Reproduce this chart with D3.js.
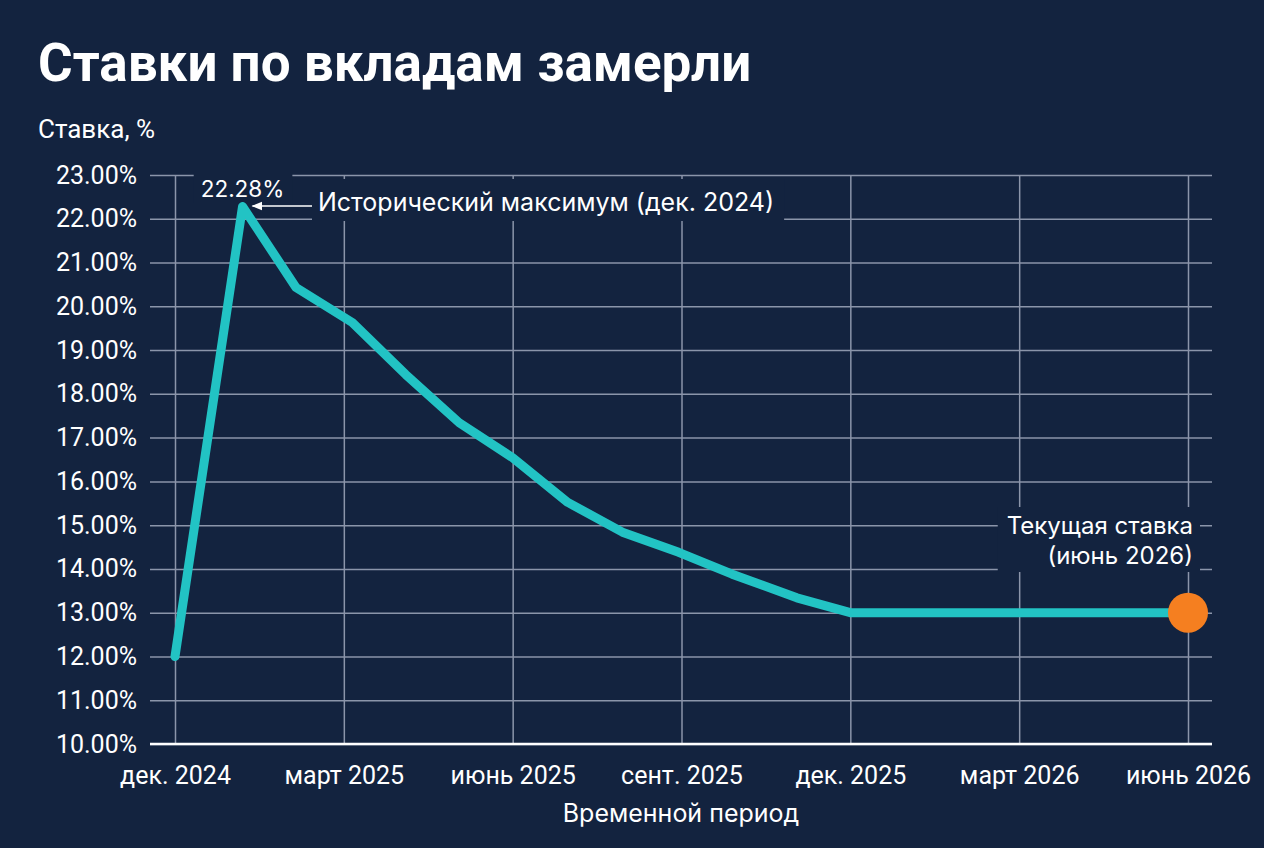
<!DOCTYPE html>
<html lang="ru">
<head>
<meta charset="utf-8">
<script src="https://cdn.jsdelivr.net/npm/d3@7"></script>
<style>
  html, body { margin: 0; padding: 0; background: #13233f; }
  svg { display: block; }
</style>
</head>
<body>
<svg id="chart" width="1264" height="848"></svg>
<script>
// Chart data.
const monthIndex = [0, 1.2, 2.15, 3.15, 4.1, 5.05, 6, 6.98, 7.95, 8.95, 9.9, 11.05, 12, 18];
const rates = [12.0, 22.28, 20.43, 19.63, 18.44, 17.34, 16.54, 15.52, 14.84, 14.38, 13.88, 13.34, 13.0, 13.0];
const tickMonths = [0, 3, 6, 9, 12, 15, 18];
const tickLabels = ["дек. 2024", "март 2025", "июнь 2025", "сент. 2025", "дек. 2025", "март 2026", "июнь 2026"];
const rateTicks = [10, 11, 12, 13, 14, 15, 16, 17, 18, 19, 20, 21, 22, 23];

const bg = "#13233f";
const gridColor = "#8b95aa";
const lineColor = "#22c3c4";
const dotColor = "#f57f20";

const svg = d3.select("#chart");
svg.append("rect").attr("width", 1264).attr("height", 848).attr("fill", bg);

// Plot frame.
const plotLeft = 150, plotRight = 1212, plotTop = 175, plotBottom = 744;

// Scales.
const x = d3.scaleLinear().domain([0, 18]).range([175, 1188]);
const y = d3.scaleLinear().domain([10, 23]).range([plotBottom, plotTop]);

// Title and y label.
svg.append("text")
  .attr("x", 38).attr("y", 81)
  .attr("fill", "#ffffff")
  .style("font-family", "Roboto, sans-serif")
  .style("font-weight", 700)
  .style("font-size", "53px")
  .text("Ставки по вкладам замерли");

svg.append("text")
  .attr("x", 38).attr("y", 138)
  .attr("fill", "#ffffff")
  .style("font-family", "Roboto, sans-serif")
  .style("font-size", "26px")
  .text("Ставка, %");

// Horizontal grid with y tick labels.
const yAxis = svg.append("g")
  .attr("transform", `translate(${plotLeft},0)`)
  .call(d3.axisLeft(y)
    .tickValues(rateTicks)
    .tickFormat(d => d.toFixed(2) + "%")
    .tickSize(-(plotRight - plotLeft))
    .tickPadding(13));
yAxis.select(".domain").remove();
yAxis.selectAll(".tick line").attr("stroke", gridColor).attr("stroke-width", 1.5);
yAxis.selectAll(".tick text")
  .attr("fill", "#ffffff")
  .style("font-family", "Roboto, sans-serif")
  .style("font-size", "25px");

// Vertical grid with x tick labels.
const xAxis = svg.append("g")
  .attr("transform", `translate(0,${plotBottom})`)
  .call(d3.axisBottom(x)
    .tickValues(tickMonths)
    .tickFormat((d, i) => tickLabels[i])
    .tickSize(-(plotBottom - plotTop))
    .tickPadding(22));
xAxis.select(".domain").remove();
xAxis.selectAll(".tick line").attr("stroke", gridColor).attr("stroke-width", 1.5);
xAxis.selectAll(".tick text")
  .attr("fill", "#ffffff")
  .style("font-family", "Roboto, sans-serif")
  .style("font-size", "25px");

// Baseline.
svg.append("line")
  .attr("x1", plotLeft).attr("x2", plotRight)
  .attr("y1", y(10)).attr("y2", y(10))
  .attr("stroke", "#ffffff").attr("stroke-width", 2.5);

svg.append("text")
  .attr("x", 681).attr("y", 822)
  .attr("text-anchor", "middle")
  .attr("fill", "#ffffff")
  .style("font-family", "Inter, sans-serif")
  .style("font-size", "25px")
  .text("Временной период");

// Label helper: text with a background box that hides the grid behind it.
const labelLayer = svg.append("g");
function label(tx, ty, lines, anchor, size, pad) {
  const g = labelLayer.append("g");
  const box = g.append("rect").attr("fill", bg);
  const t = g.append("text")
    .attr("text-anchor", anchor)
    .attr("fill", "#ffffff")
    .style("font-family", "Inter, sans-serif")
    .style("font-size", size + "px");
  lines.forEach((s, i) => {
    t.append("tspan").attr("x", tx).attr("y", ty + i * 30).text(s);
  });
  const b = t.node().getBBox();
  box.attr("x", b.x - pad[3]).attr("y", b.y - pad[0])
    .attr("width", b.width + pad[1] + pad[3])
    .attr("height", b.height + pad[0] + pad[2]);
  return b;
}

const peakIdx = rates.indexOf(d3.max(rates));
const last = rates.length - 1;

label(x(monthIndex[peakIdx]), 197, [rates[peakIdx].toFixed(2) + "%"], "middle", 22.5, [3, 8, 1, 7]);
const ann = label(318, 211, ["Исторический максимум (дек. 2024)"], "start", 25, [8, 10, 4, 6]);
label(1193, 534, ["Текущая ставка", "(июнь 2026)"], "end", 24, [4, 7, 2, 9]);

// Arrow to the peak.
svg.append("defs").append("marker")
  .attr("id", "arrow")
  .attr("viewBox", "0 0 10 10")
  .attr("refX", 9).attr("refY", 5)
  .attr("markerWidth", 7).attr("markerHeight", 7)
  .attr("orient", "auto-start-reverse")
  .append("path")
  .attr("d", "M0,1 L10,5 L0,9 Z")
  .attr("fill", "#ffffff");

svg.append("line")
  .attr("x1", ann.x - 6).attr("x2", x(monthIndex[peakIdx]) + 10)
  .attr("y1", 206).attr("y2", 206)
  .attr("stroke", "#ffffff").attr("stroke-width", 1.5)
  .attr("marker-end", "url(#arrow)");

// Rate line.
const line = d3.line()
  .x((d, i) => x(monthIndex[i]))
  .y(d => y(d));

svg.append("path")
  .datum(rates)
  .attr("d", line)
  .attr("fill", "none")
  .attr("stroke", lineColor)
  .attr("stroke-width", 9)
  .attr("stroke-linejoin", "round")
  .attr("stroke-linecap", "round");

// Current rate marker.
svg.append("circle")
  .attr("cx", x(monthIndex[last]))
  .attr("cy", y(rates[last]))
  .attr("r", 20)
  .attr("fill", dotColor);
</script>
</body>
</html>
